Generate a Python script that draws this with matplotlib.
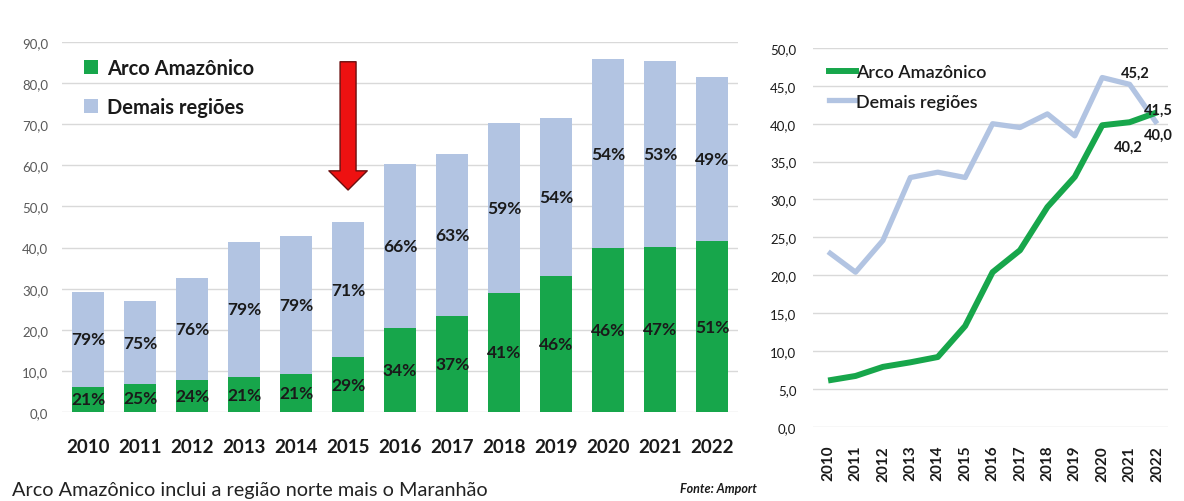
import matplotlib
matplotlib.use("Agg")
import matplotlib.pyplot as plt
from matplotlib.patches import Patch
from matplotlib.lines import Line2D

years = ["2010", "2011", "2012", "2013", "2014", "2015", "2016",
         "2017", "2018", "2019", "2020", "2021", "2022"]
arco = [6.1, 6.7, 7.9, 8.5, 9.2, 13.3, 20.4, 23.3, 29.0, 33.0, 39.8, 40.2, 41.5]
demais = [23.1, 20.4, 24.6, 32.9, 33.6, 32.9, 40.0, 39.5, 41.3, 38.4, 46.1, 45.2, 40.0]
pct_arco = ["21%", "25%", "24%", "21%", "21%", "29%", "34%", "37%", "41%", "46%", "46%", "47%", "51%"]
pct_demais = ["79%", "75%", "76%", "79%", "79%", "71%", "66%", "63%", "59%", "54%", "54%", "53%", "49%"]
left_yticks = [0, 10, 20, 30, 40, 50, 60, 70, 80, 90]
right_yticks = [0, 5, 10, 15, 20, 25, 30, 35, 40, 45, 50]

GREEN = "#17a64b"
BLUE = "#b2c4e2"
GRID = "#d9d9d9"
TICKC = "#595959"
TXT = "#1a1a1a"
FONT = "Lato"

plt.rcParams["font.family"] = [FONT, "DejaVu Sans"]

fig = plt.figure(figsize=(11.84, 5.02), dpi=100)
fig.patch.set_facecolor("white")

def fmt(v):
    return f"{v:.1f}".replace(".", ",")

# ---------- Left: stacked bars ----------
ax = fig.add_axes([0.0524, 0.1773, 0.571, 0.737])
x = list(range(len(years)))
ax.bar(x, arco, width=0.63, color=GREEN, zorder=3)
ax.bar(x, demais, width=0.63, bottom=arco, color=BLUE, zorder=3)
ax.set_ylim(0, 90)
ax.set_xlim(-0.5, 12.5)
ax.set_yticks(left_yticks)
ax.set_yticklabels([fmt(v) for v in left_yticks], color=TICKC, fontsize=9.5)
ax.set_xticks(x)
ax.set_xticklabels(years, fontsize=13.5, fontweight="bold", color=TXT)
ax.tick_params(axis="both", length=0)
ax.tick_params(axis="y", pad=10)
ax.tick_params(axis="x", pad=19)
ax.grid(axis="y", color=GRID, linewidth=1, zorder=0)
for s in ax.spines.values():
    s.set_visible(False)
for i in x:
    ax.text(i, arco[i] / 2, pct_arco[i], ha="center", va="center",
            fontsize=12.5, fontweight="bold", color=TXT, zorder=4)
    ax.text(i, arco[i] + demais[i] / 2, pct_demais[i], ha="center", va="center",
            fontsize=12.5, fontweight="bold", color=TXT, zorder=4)

h1 = [Patch(facecolor=GREEN, edgecolor="none"), Patch(facecolor=BLUE, edgecolor="none")]
leg = ax.legend(h1, ["Arco Amazônico", "Demais regiões"], loc="upper left",
                bbox_to_anchor=(0.005, 1.005), frameon=False,
                prop={"family": FONT, "weight": "bold", "size": 14.5},
                handlelength=0.7, handleheight=0.7, handletextpad=0.45,
                labelspacing=0.95)
for t in leg.get_texts():
    t.set_color(TXT)

# red arrow over 2015
ax.annotate("", xy=(5, 54.0), xytext=(5, 85.2),
            arrowprops=dict(arrowstyle="simple,head_length=1.2,head_width=2.4,tail_width=1.0",
                            mutation_scale=11.5, fc="#ee1111", ec="#6a1010", lw=1,
                            shrinkA=0, shrinkB=0), zorder=5)

# ---------- Right: lines ----------
ax2 = fig.add_axes([0.6867, 0.148, 0.2998, 0.7544])
ax2.plot(x, demais, color=BLUE, linewidth=3.8, solid_capstyle="butt", zorder=3)
ax2.plot(x, arco, color=GREEN, linewidth=4.3, solid_capstyle="butt", zorder=4)
ax2.set_ylim(0, 50)
ax2.set_xlim(-0.55, 12.4)
ax2.set_yticks(right_yticks)
ax2.set_yticklabels([fmt(v) for v in right_yticks], color=TXT, fontsize=9.5)
ax2.set_xticks(x)
ax2.set_xticklabels(years, rotation=90, fontsize=11, fontweight="bold", color=TXT)
ax2.tick_params(axis="both", length=0)
ax2.tick_params(axis="y", pad=12)
ax2.tick_params(axis="x", pad=13)
ax2.grid(axis="y", color=GRID, linewidth=1, zorder=0)
for s in ax2.spines.values():
    s.set_visible(False)

h2 = [Line2D([], [], color=GREEN, linewidth=4.3), Line2D([], [], color=BLUE, linewidth=3.8)]
leg2 = ax2.legend(h2, ["Arco Amazônico", "Demais regiões"], loc="upper left",
                  bbox_to_anchor=(0.0, 1.0), frameon=False,
                  prop={"family": FONT, "weight": "semibold", "size": 13},
                  handlelength=1.5, handletextpad=0.0, labelspacing=0.75)
for t in leg2.get_texts():
    t.set_color(TXT)

lab = dict(fontsize=10.5, fontweight="bold", color=TXT, ha="center", va="center",
           textcoords="offset points", zorder=6)
ax2.annotate(fmt(demais[11]), (11, demais[11]), xytext=(4, 8), **lab)
ax2.annotate(fmt(arco[11]), (11, arco[11]), xytext=(-1, -18), **lab)
ax2.annotate(fmt(arco[12]), (12, arco[12]), xytext=(1, 2), **lab)
ax2.annotate(fmt(demais[12]), (12, demais[12]), xytext=(1, -8), **lab)

# ---------- footer ----------
fig.text(0.010, 0.022, "Arco Amazônico inclui a região norte mais o Maranhão",
         fontsize=14.3, color="#222222", ha="left", va="center")
fig.text(0.639, 0.025, "Fonte: Amport", fontsize=9, fontstyle="italic",
         fontweight="bold", color=TXT, ha="right", va="center")

fig.savefig("out.png", dpi=100, facecolor="white")
